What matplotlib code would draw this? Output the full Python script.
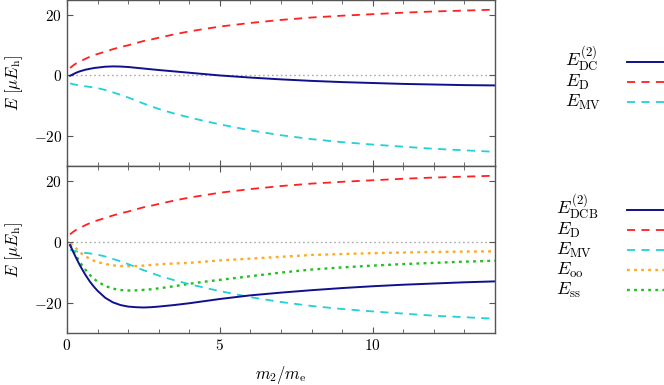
"""Relativistic correction components versus mass ratio m2/me."""

import matplotlib

matplotlib.use("Agg", force=True)

import matplotlib.pyplot as plt
from matplotlib.lines import Line2D
from matplotlib.ticker import FuncFormatter, MultipleLocator

plt.rcParams["mathtext.fontset"] = "cm"
plt.rcParams["font.family"] = "serif"
plt.rcParams["font.serif"] = ["cmr10", "DejaVu Serif"]
plt.rcParams["axes.formatter.use_mathtext"] = True

# mass ratio m2/me
mass_ratio = [0.1, 0.2, 0.3, 0.4, 0.5, 0.6, 0.75, 0.9, 1.0, 1.25,
              1.5, 1.75, 2.0, 2.25, 2.5, 2.75, 3.0, 3.5, 4.0, 4.5,
              5.0, 6.0, 7.0, 8.0, 9.0, 10.0, 11.0, 12.0, 13.0, 14.0]

# energies in micro-hartree
e_d = [2.5, 3.3, 4.0, 4.5, 5.0, 5.5, 6.2, 6.8, 7.1, 7.9,
       8.7, 9.4, 10.0, 10.7, 11.4, 11.9, 12.5, 13.6, 14.6, 15.4,
       16.2, 17.4, 18.4, 19.2, 19.8, 20.3, 20.8, 21.2, 21.5, 21.8]
e_mv = [-2.6, -2.9, -3.1, -3.3, -3.5, -3.6, -3.8, -4.0, -4.2, -4.8,
        -5.6, -6.4, -7.3, -8.3, -9.3, -10.2, -11.1, -12.6, -13.9, -15.1,
        -16.2, -18.2, -19.8, -21.1, -22.1, -22.9, -23.6, -24.3, -24.8, -25.3]
e_dc = [-0.1, 0.4, 0.9, 1.3, 1.6, 1.9, 2.2, 2.5, 2.6, 2.9,
        3.0, 2.95, 2.8, 2.55, 2.3, 2.05, 1.8, 1.35, 0.9, 0.45,
        0.0, -0.7, -1.3, -1.8, -2.2, -2.5, -2.8, -3.0, -3.2, -3.3]
e_dcb = [-1.0, -3.2, -5.3, -7.3, -9.1, -10.8, -13.1, -15.0, -16.1, -18.4,
         -19.9, -20.8, -21.3, -21.5, -21.6, -21.5, -21.3, -20.8, -20.2, -19.5,
         -18.8, -17.6, -16.7, -15.9, -15.2, -14.6, -14.1, -13.7, -13.3, -13.0]
e_oo = [-0.5, -1.1, -2.2, -3.2, -4.0, -4.7, -5.6, -6.3, -6.6, -7.3,
        -7.7, -7.95, -8.0, -7.95, -7.8, -7.6, -7.4, -7.1, -6.9, -6.5,
        -6.1, -5.5, -4.9, -4.3, -4.0, -3.7, -3.5, -3.3, -3.2, -3.1]
e_ss = [-1.0, -2.8, -4.6, -6.3, -7.8, -9.1, -10.9, -12.3, -13.1, -14.5,
        -15.4, -15.85, -16.0, -15.95, -15.8, -15.6, -15.3, -14.6, -13.8, -13.1,
        -12.5, -11.3, -10.1, -9.1, -8.4, -7.8, -7.3, -6.9, -6.5, -6.2]

NAVY = "#10108c"
RED = "#ff2020"
CYAN = "#22d0d8"
ORANGE = "#ffaa22"
GREEN = "#22c022"

DASH = dict(linestyle=(0, (4.5, 3.5)), linewidth=1.3)
DOT = dict(linestyle=(0, (1.2, 1.8)), linewidth=1.7)
SOLID = dict(linestyle="-", linewidth=1.4)

W, H = 664, 385
fig = plt.figure(figsize=(6.64, 3.85), dpi=100)
ax_top = fig.add_axes([67 / W, 1 - 166 / H, 428 / W, 166 / H])
ax_bot = fig.add_axes([67 / W, 1 - 333 / H, 428 / W, 167 / H], sharex=ax_top)

top_series = [
    (e_dc, r"$E_{\mathrm{DC}}^{(2)}$", NAVY, SOLID),
    (e_d, r"$E_{\mathrm{D}}$", RED, DASH),
    (e_mv, r"$E_{\mathrm{MV}}$", CYAN, DASH),
]
bot_series = [
    (e_dcb, r"$E_{\mathrm{DCB}}^{(2)}$", NAVY, SOLID),
    (e_d, r"$E_{\mathrm{D}}$", RED, DASH),
    (e_mv, r"$E_{\mathrm{MV}}$", CYAN, DASH),
    (e_oo, r"$E_{\mathrm{oo}}$", ORANGE, DOT),
    (e_ss, r"$E_{\mathrm{ss}}$", GREEN, DOT),
]

tick_fmt = FuncFormatter(lambda v, _pos: f"${v:g}$")

for ax, series in ((ax_top, top_series), (ax_bot, bot_series)):
    ax.axhline(0.0, color="#aaaaaa", linestyle=(0, (1.2, 2.0)), linewidth=1.0, zorder=1)
    for values, _label, color, style in series[::-1]:
        ax.plot(mass_ratio, values, color=color, **style, zorder=2)
    ax.set_xlim(0, 14)
    ax.set_ylim(-30, 25)
    ax.yaxis.set_major_locator(MultipleLocator(20))
    ax.xaxis.set_major_locator(MultipleLocator(5))
    ax.xaxis.set_minor_locator(MultipleLocator(1))
    ax.xaxis.set_major_formatter(tick_fmt)
    ax.yaxis.set_major_formatter(tick_fmt)
    ax.tick_params(which="both", direction="in", top=True, right=True,
                   color="#555555", labelsize=11)
    ax.tick_params(which="major", length=4)
    ax.tick_params(which="minor", length=3)
    for spine in ax.spines.values():
        spine.set_color("#555555")
        spine.set_linewidth(1.0)
    ax.set_ylabel(r"$E\ [\mu E_{\mathrm{h}}]$", fontsize=12, labelpad=6)

ax_top.tick_params(axis="x", labelbottom=False)
ax_bot.set_xlabel(r"$m_2/m_{\mathrm{e}}$", fontsize=12, labelpad=8)

# legends with the label to the left of the key
def draw_legend(series, text_x, first_y, step=20):
    for i, (_values, label, color, style) in enumerate(series):
        y = first_y + i * step
        fig.text(text_x / W, 1 - (y + 5) / H, label, fontsize=13,
                 ha="left", va="baseline")
        fig.add_artist(Line2D([627 / W, 672 / W], [1 - y / H, 1 - y / H],
                              color=color, **style))


draw_legend(top_series, 565, 62)
draw_legend(bot_series, 556, 210)

fig.savefig("out.png", dpi=100)
